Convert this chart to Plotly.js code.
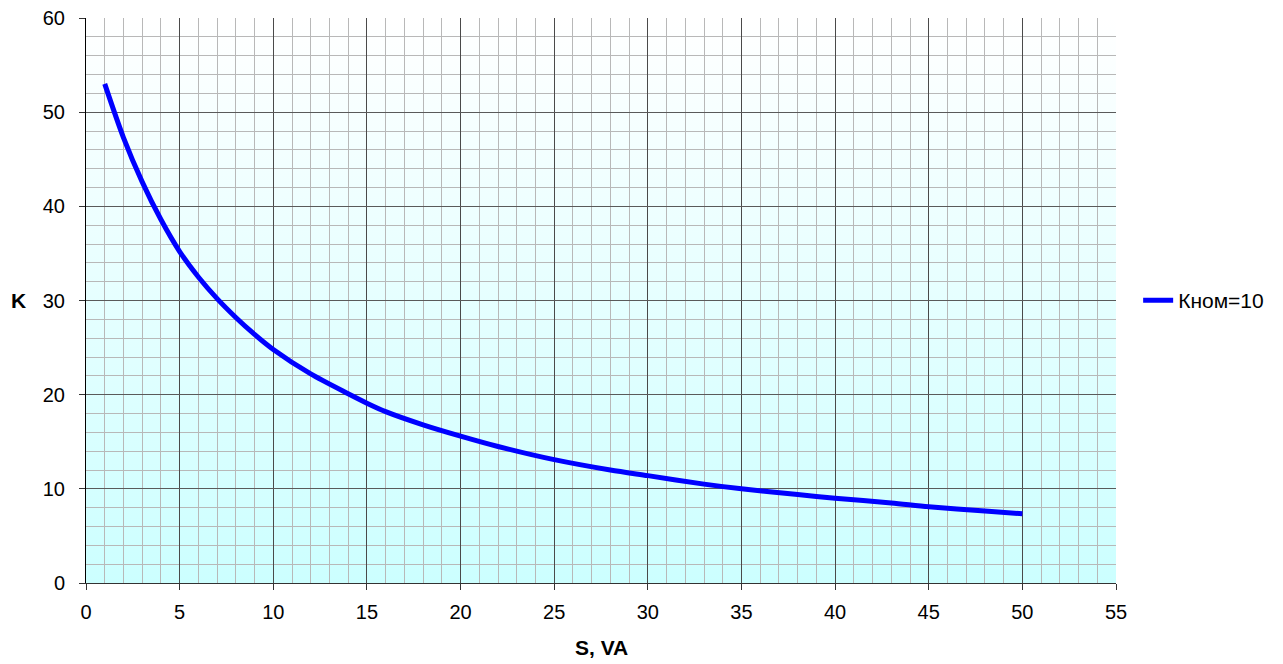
<!DOCTYPE html>
<html>
<head>
<meta charset="utf-8">
<script src="https://cdn.plot.ly/plotly-3.0.1.min.js"></script>
<style>html,body{margin:0;padding:0;background:#fff;}#chart{width:1283px;height:664px;}</style>
</head>
<body>
<div id="chart"></div>
<script>
const seriesName = "Кном=10";
const sValues = [1, 2, 3, 4, 5, 6, 7, 8, 9, 10, 12, 14, 15, 16, 18, 20, 22, 25, 28, 30, 33, 35, 38, 40, 43, 45, 48, 50];
const kValues = [53.0, 47.3, 42.6, 38.6, 35.2, 32.5, 30.2, 28.2, 26.4, 24.8, 22.2, 20.1, 19.1, 18.2, 16.8, 15.6, 14.5, 13.1, 12.0, 11.4, 10.5, 10.0, 9.4, 9.0, 8.5, 8.1, 7.65, 7.35];
const xTitle = "S, VA";
const yTitle = "K";

const gradSvg = '<svg xmlns="http://www.w3.org/2000/svg" width="100" height="100" preserveAspectRatio="none">' +
  '<defs><linearGradient id="g" x1="0" y1="0" x2="0" y2="1">' +
  '<stop offset="0" stop-color="#ffffff"/><stop offset="1" stop-color="#ccffff"/>' +
  '</linearGradient></defs><rect width="100" height="100" fill="url(#g)"/></svg>';
const gradUri = 'data:image/svg+xml;base64,' + btoa(gradSvg);

const trace = {
  x: sValues, y: kValues, type: 'scatter', mode: 'lines', name: seriesName,
  line: {color: '#0000ff', width: 5, shape: 'spline', smoothing: 0.8}
};

const fam = 'Liberation Sans, Arial, sans-serif';
const font = {family: fam, size: 20, color: '#000'};
const titleFont = {family: fam, size: 21, color: '#000'};
const layout = {
  width: 1283, height: 664,
  margin: {l: 86, r: 167, t: 18, b: 81},
  paper_bgcolor: '#ffffff', plot_bgcolor: 'rgba(0,0,0,0)',
  font: font,
  showlegend: true,
  legend: {x: 1.0215, y: 0.5, xanchor: 'left', yanchor: 'middle', font: {family: fam, size: 21, color: '#000'}, bgcolor: 'rgba(0,0,0,0)', itemwidth: 30},
  images: [{source: gradUri, xref: 'paper', yref: 'paper', x: 0, y: 1, sizex: 1, sizey: 1,
            sizing: 'stretch', layer: 'below', xanchor: 'left', yanchor: 'top'}],
  xaxis: {
    range: [0, 55], dtick: 5, tick0: 0, showgrid: true, gridcolor: '#4a4a4a', gridwidth: 1,
    ticks: 'outside', ticklen: 6, tickcolor: '#333', zeroline: false,
    showline: true, linecolor: '#333', linewidth: 1, mirror: false,
    tickfont: font, ticklabelstandoff: 5,
    minor: {dtick: 1, showgrid: true, gridcolor: '#b8b8b8', gridwidth: 1}
  },
  yaxis: {
    range: [0, 60], dtick: 10, tick0: 0, showgrid: true, gridcolor: '#5a5a5a', gridwidth: 1,
    ticks: 'outside', ticklen: 6, tickcolor: '#333', zeroline: false,
    showline: true, linecolor: '#000', linewidth: 1,
    tickfont: font, ticklabelstandoff: 10,
    minor: {dtick: 2, showgrid: true, gridcolor: '#b8b8b8', gridwidth: 1}
  },
  annotations: [
    {text: '<b>' + yTitle + '</b>', xref: 'paper', yref: 'paper', x: -0.066, y: 0.5, xanchor: 'center', yanchor: 'middle', showarrow: false, font: titleFont},
    {text: '<b>' + xTitle + '</b>', xref: 'paper', yref: 'paper', x: 0.5, y: -0.115, xanchor: 'center', yanchor: 'middle', showarrow: false, font: titleFont}
  ]
};

Plotly.newPlot('chart', [trace], layout, {displayModeBar: false, staticPlot: true});
</script>
</body>
</html>
